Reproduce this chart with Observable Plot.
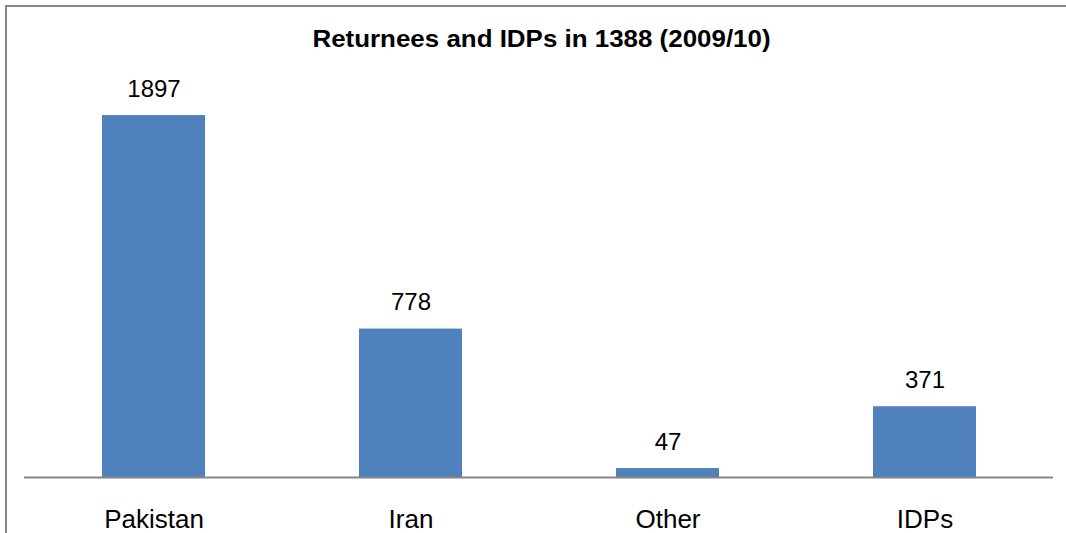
<!DOCTYPE html>
<html>
<head>
<meta charset="utf-8">
<script src="https://cdn.jsdelivr.net/npm/d3@7"></script>
<script src="https://cdn.jsdelivr.net/npm/@observablehq/plot@0.6"></script>
<style>
  html, body { margin: 0; padding: 0; background: #fff; overflow: hidden; }
  #wrap { position: relative; width: 1066px; height: 533px; overflow: hidden; font-family: "Liberation Sans", Arial, sans-serif; }
  #frame { position: absolute; left: 5px; top: 5px; width: 1061px; height: 528px; border-top: 2px solid #868686; border-left: 2px solid #868686; box-sizing: border-box; }
  #title { position: absolute; left: 0; top: 27px; width: 1083px; text-align: center; font-weight: bold; font-size: 24px; color: #000; line-height: 24px; transform: scaleX(1.08); transform-origin: 541.5px 0; }
  #chart { position: absolute; left: 0; top: 0; }
</style>
</head>
<body>
<div id="wrap">
  <div id="frame"></div>
  <div id="title">Returnees and IDPs in 1388 (2009/10)</div>
  <div id="chart"></div>
</div>
<script>
const categories = ["Pakistan", "Iran", "Other", "IDPs"];
const values = [1897, 778, 47, 371];

const data = categories.map((c, i) => ({category: c, value: values[i]}));

const chart = Plot.plot({
  width: 1066,
  height: 533,
  marginLeft: 24,
  marginRight: 13,
  marginTop: 95.4,
  marginBottom: 56,
  style: {fontFamily: "'Liberation Sans', Arial, sans-serif", background: "transparent", color: "#000"},
  x: {domain: categories, paddingInner: 0.6, paddingOuter: 0.3, label: null},
  y: {domain: [0, 2000], axis: null},
  marks: [
    Plot.barY(data, {x: "category", y: "value", fill: "#4F81BD"}),
    Plot.ruleY([0], {stroke: "#868686", strokeWidth: 2}),
    Plot.text(data, {x: "category", y: "value", text: d => String(d.value), lineAnchor: "bottom", dy: -19, fontSize: 24, fill: "#000"}),
    Plot.axisX({tickSize: 0, tickPadding: 32, fontSize: 26, label: null, fill: "#000"})
  ]
});
document.getElementById("chart").appendChild(chart);
</script>
</body>
</html>
